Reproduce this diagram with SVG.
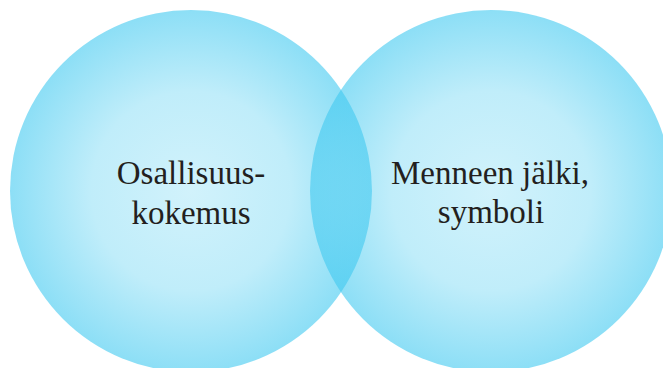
<svg xmlns="http://www.w3.org/2000/svg" width="663" height="368" viewBox="0 0 663 368">
  <defs>
    <radialGradient id="bub" cx="0.5" cy="0.5" r="0.5">
      <stop offset="0" stop-color="rgb(64,201,240)" stop-opacity="0.24"/>
      <stop offset="0.55" stop-color="rgb(64,201,240)" stop-opacity="0.33"/>
      <stop offset="1" stop-color="rgb(64,201,240)" stop-opacity="0.6"/>
    </radialGradient>
  </defs>
  <style>
    .circle { fill: url(#bub); }
    .label { font-family: "Liberation Serif", "Times New Roman", serif; font-size: 33px; fill: #231f20; text-anchor: middle; }
  </style>
  <rect width="663" height="368" fill="#ffffff"/>
  <g id="node-osallisuus">
    <circle class="circle" cx="191" cy="191" r="181"/>
    <text class="label" x="191" y="184">Osallisuus-</text>
    <text class="label" x="191" y="224">kokemus</text>
  </g>
  <g id="node-menneen">
    <circle class="circle" cx="491" cy="191" r="181"/>
    <text class="label" x="490" y="184">Menneen jälki,</text>
    <text class="label" x="491" y="223">symboli</text>
  </g>
  <g id="connectors"/>
</svg>
